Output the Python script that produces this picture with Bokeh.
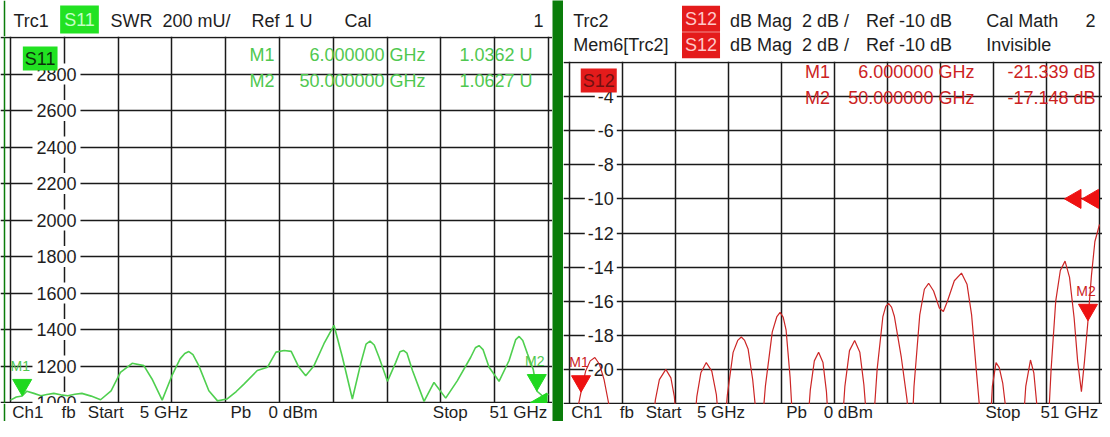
import numpy as np
from bokeh.plotting import figure
from bokeh.layouts import row, column
from bokeh.models import Label, Grid, FixedTicker, Range1d, Span
from bokeh.core.properties import value
from bokeh.embed import file_html
from bokeh.resources import INLINE

FONT = "Liberation Sans"

# ---------------- data ----------------
F_START, F_STOP = 5.0, 51.0

s11_freq = [5.0, 5.5, 6.0, 6.4, 7.0, 7.6, 8.1, 8.7, 9.3, 9.9,
            10.5, 11.1, 11.9, 12.7, 13.6, 14.4, 15.4, 16.4, 17.1, 17.97,
            18.8, 19.5, 19.9, 20.25, 20.6, 21.1, 21.96, 22.7, 23.5, 24.3,
            24.96, 26.1, 26.96, 27.7, 28.4, 29.0, 29.66, 30.24, 30.95, 31.8,
            32.66, 33.38, 34.23, 34.94, 35.4, 35.74, 36.1, 36.51, 37.23, 37.94,
            38.3, 38.6, 38.9, 39.37, 40.36, 41.21, 42.21, 43.21, 44.35, 44.75,
            45.06, 45.4, 45.92, 46.77, 47.63, 48.2, 48.49, 48.8, 49.2, 49.7,
            50.0, 50.5, 51.0]
s11_swr = [1013, 1030, 1036, 1062, 1050, 1037, 1044, 1050, 1042, 1037,
           1045, 1050, 1035, 1015, 1064, 1165, 1215, 1202, 1129, 1013,
           1147, 1239, 1268, 1279, 1262, 1202, 1064, 1009, 1019, 1060,
           1101, 1175, 1193, 1276, 1285, 1280, 1193, 1147, 1202, 1322,
           1423, 1248, 1019, 1212, 1320, 1336, 1315, 1248, 1116, 1220,
           1278, 1285, 1270, 1175, 1006, 1110, 1024, 1120, 1248, 1300,
           1312, 1290, 1193, 1116, 1230, 1345, 1362, 1340, 1267, 1180,
           1063, 1035, 1045]

s12_freq = [5.0, 5.3, 5.6, 5.8, 6.0, 6.4, 6.8, 7.2, 7.6, 8.0, 8.4, 8.7, 10.4,
            12.2, 12.45, 12.8, 13.36, 13.8, 14.1, 14.35, 15.1,
            15.8, 16.05, 16.4, 16.87, 17.35, 17.75, 18.0, 18.3,
            18.45, 18.7, 19.2, 19.6, 19.91, 20.2, 20.5, 20.9, 21.25, 21.5,
            21.7, 22.0, 22.6, 23.0, 23.28, 23.55, 23.8, 24.15, 24.4, 25.0,
            25.65, 25.9, 26.25, 26.62, 27.0, 27.3, 27.5, 28.1,
            28.65, 28.9, 29.3, 29.75, 30.2, 30.55, 30.85, 31.1,
            31.35, 31.7, 32.2, 32.45, 32.69, 32.95, 33.2, 33.8, 34.3, 34.5, 34.6,
            34.7, 34.9, 35.4, 35.8, 36.17, 36.6, 37.1, 37.45, 37.8, 38.4, 39.02,
            39.5, 39.9, 40.3, 40.6, 40.8, 41.2,
            41.5, 41.7, 42.02, 42.3, 42.6, 42.9, 43.1, 43.8,
            44.35, 44.6, 45.01, 45.3, 45.55, 45.8, 46.2,
            46.5, 46.8, 47.2, 47.6, 48.01, 48.4, 48.8, 49.1, 49.43, 49.7,
            50.0, 50.3, 50.6, 51.0]
s12_db = [-23.5, -26.0, -23.0, -22.0, -21.339, -20.1, -19.5, -19.3, -19.7, -20.6, -22.0, -25.0, -32.0,
          -23.5, -21.8, -20.6, -20.0, -20.5, -21.6, -23.5, -32.0,
          -23.5, -21.6, -20.2, -19.6, -20.1, -21.5, -23.5, -30.0,
          -23.5, -21.5, -19.0, -18.3, -18.1, -18.3, -18.8, -20.6, -23.0, -30.0,
          -23.5, -21.0, -17.8, -16.9, -16.65, -16.95, -17.7, -20.5, -23.5, -32.0,
          -23.5, -21.2, -19.5, -19.0, -19.6, -21.3, -23.5, -32.0,
          -23.5, -21.0, -18.9, -18.3, -19.0, -20.9, -23.5, -30.0,
          -23.5, -20.0, -16.9, -16.3, -16.13, -16.35, -16.9, -19.3, -21.8, -24.0, -30.0,
          -24.0, -21.0, -16.8, -15.3, -14.95, -15.4, -16.4, -16.6, -16.0, -14.8, -14.35,
          -15.0, -16.8, -20.0, -22.3, -25.0, -32.0,
          -23.5, -21.0, -19.6, -19.9, -20.8, -22.5, -26.0, -32.0,
          -23.5, -21.0, -19.45, -20.2, -22.0, -25.0, -30.0,
          -24.0, -20.0, -16.0, -14.2, -13.65, -14.6, -17.0, -19.5, -21.3, -19.5,
          -17.148, -14.5, -12.5, -11.5]

marker_names = ["M1", "M2"]
marker_freq = [6.0, 50.0]
marker_freq_text = ["6.000000 GHz", "50.000000 GHz"]
s11_marker_val = [1036.2, 1062.7]
s11_marker_text = ["1.0362  U", "1.0627  U"]
s12_marker_val = [-21.339, -17.148]
s12_marker_text = ["-21.339 dB", "-17.148 dB"]

x_grid_ticks = list(np.linspace(F_START, F_STOP, 11))
s11_ylim = (1000, 3000)
s11_grid_ticks = list(range(1000, 3001, 200))
s11_tick_vals = list(range(1000, 2801, 200))
s11_tick_text = [str(v) for v in s11_tick_vals]
s11_ref = [1000]

s12_ylim = (-22, -2)
s12_grid_ticks = list(range(-22, -1, 2))
s12_tick_vals = list(range(-20, -3, 2))
s12_tick_text = [str(v) for v in s12_tick_vals]
s12_ref = [-10, -10]

left_header_text = ["Trc1", "SWR", "200 mU/", "Ref 1 U", "Cal"]
right_header_row1 = ["Trc2", "dB Mag", "2 dB /", "Ref -10 dB", "Cal Math"]
right_header_row2 = ["Mem6[Trc2]", "dB Mag", "2 dB /", "Ref -10 dB", "Invisible"]
footer_text = ["Ch1", "fb", "Start", "5 GHz", "Pb", "0 dBm", "Stop"]
footer_stop = "51 GHz"

# ---------------- styling / geometry (reference pixels) ----------------
TXT = "#1e1e1e"
GRID = "#1a1a1a"
G_TRACE, G_MARK, G_TEXT, G_BOX = "#4fcf4f", "#1fd81f", "#50c850", "#22e222"
R_TRACE, R_MARK, R_TEXT, R_BOX = "#cc2626", "#ee1111", "#cc2222", "#e41b1b"
SEP = "#0a7d0a"
FS = "18px"
FOOT_FS = "17px"
FOOT_Y = 412


def strip(width, height):
    return figure(width=width, height=height, x_range=Range1d(0, width),
                  y_range=Range1d(height, 0), output_backend="svg",
                  toolbar_location=None, title=None, x_axis_type=None, y_axis_type=None,
                  min_border=0, background_fill_color="white",
                  border_fill_color="white", outline_line_color=None)


def slabel(p, x, y, text, color=TXT, align="left", bg=None, pad=0, size=FS):
    lab = Label(x=x, y=y, text=text, text_font=FONT, text_font_size=size,
                text_color=color, text_align=align, text_baseline="middle")
    if bg is not None:
        lab.background_fill_color = bg
        lab.padding = pad
    p.add_layout(lab)


def main_fig(width, height, xr, yr, yticks):
    p = figure(width=width, height=height, x_range=Range1d(*xr), y_range=Range1d(*yr),
               output_backend="svg", toolbar_location=None, title=None,
               x_axis_type=None, y_axis_type=None, min_border=0,
               background_fill_color="white", border_fill_color="white",
               outline_line_color=None)
    p.add_layout(Grid(dimension=0, ticker=FixedTicker(ticks=x_grid_ticks),
                      grid_line_color=GRID, grid_line_width=1.5))
    p.add_layout(Grid(dimension=1, ticker=FixedTicker(ticks=yticks),
                      grid_line_color=GRID, grid_line_width=1.5))
    return p


def edge_line(p, loc):
    p.add_layout(Span(location=loc, dimension="height", line_color=SEP, line_width=1.5))


# ======== left panel ========
# plot frame (reference px): x 10..548, y 37..402 ; column covers x 0..552
L_W = 552
L_HDR, L_MAIN, L_FTR = 36, 367, 18
lux = (F_STOP - F_START) / 538.0
luy = (s11_ylim[1] - s11_ylim[0]) / 365.0
pl = main_fig(L_W, L_MAIN,
              (F_START - 10 * lux, F_STOP + 4 * lux),
              (s11_ylim[0] - 1 * luy, s11_ylim[1] + 1 * luy), s11_grid_ticks)


def lx(rx):
    return F_START + (rx - 10) * lux


def ly(ry):
    return s11_ylim[0] + (402 - ry) * luy


edge_line(pl, lx(4))
pl.text(x=[F_START] * len(s11_tick_vals), y=s11_tick_vals, text=s11_tick_text,
        x_offset=70, text_align="right", text_baseline="middle",
        text_font=value(FONT), text_font_size=FS, text_color=TXT,
        background_fill_color="white", padding=4)
pl.line(s11_freq, s11_swr, line_color=G_TRACE, line_width=1.6)
pl.scatter(marker_freq, [v + 11 * luy for v in s11_marker_val],
           marker="inverted_triangle", size=19, fill_color=G_MARK, line_color=G_MARK)
pl.text(x=marker_freq, y=s11_marker_val, text=marker_names, x_offset=-2, y_offset=-30,
        text_align="center", text_baseline="middle", text_font=value(FONT),
        text_font_size="14px", text_color=G_TEXT)
pl.scatter([F_STOP - 7 * lux], s11_ref, marker="triangle", angle=np.pi / 2,
           size=19, fill_color=G_MARK, line_color=G_MARK)
slabel(pl, lx(39.7), ly(58), "S11", color="#0c300c", align="center", bg=G_BOX, pad=2)
for i, ry in enumerate([54, 80]):
    slabel(pl, lx(249), ly(ry), marker_names[i], color=G_TEXT)
    slabel(pl, lx(425), ly(ry), marker_freq_text[i], color=G_TEXT, align="right")
    slabel(pl, lx(537), ly(ry), s11_marker_text[i], color=G_TEXT, align="right")

hl = strip(L_W, L_HDR)
edge_line(hl, 4)
for t, rx in zip(left_header_text, [13, 110, 162, 251, 344]):
    slabel(hl, rx, 20, t)
slabel(hl, 543, 20, "1", align="right")
slabel(hl, 79, 19, "S11", color="#c4ffc4", align="center", bg=G_BOX, pad=4)

fl = strip(L_W, L_FTR)
edge_line(fl, 4)
for t, off in zip(footer_text, [1.7, 51, 77.3, 129.3, 220, 258, 422.3]):
    slabel(fl, 10 + off, FOOT_Y - (L_HDR + L_MAIN), t, size=FOOT_FS)
slabel(fl, 546.7, FOOT_Y - (L_HDR + L_MAIN), footer_stop, align="right", size=FOOT_FS)

left_col = column(hl, pl, fl)

# ======== separator ========
bar = figure(width=11, height=L_HDR + L_MAIN + L_FTR, output_backend="svg",
             toolbar_location=None, title=None, x_axis_type=None, y_axis_type=None,
             min_border=0, background_fill_color=SEP, border_fill_color=SEP,
             outline_line_color=None)

# ======== right panel ========
# column covers x 563..1102; plot frame x 569..1099 (slightly compressed), y 62..403
R_X0 = 563
R_W = 539
R_FW = 530.0
R_HDR, R_MAIN, R_FTR = 61, 343, 17
rux = (F_STOP - F_START) / R_FW
ruy = (s12_ylim[1] - s12_ylim[0]) / 341.0
pr = main_fig(R_W, R_MAIN,
              (F_START - 6 * rux, F_STOP + 3 * rux),
              (s12_ylim[0] - 1 * ruy, s12_ylim[1] + 1 * ruy), s12_grid_ticks)


def rpx(rx):
    # reference x -> page x inside the right panel (compressed to fit the window)
    return 569 + (rx - 569) * R_FW / 538.0


def rx2d(rx):
    return F_START + (rpx(rx) - 569) * rux


def ry2d(ry):
    return s12_ylim[0] + (403 - ry) * ruy


pr.text(x=[F_START] * len(s12_tick_vals), y=s12_tick_vals, text=s12_tick_text,
        x_offset=47.3, text_align="right", text_baseline="middle",
        text_font=value(FONT), text_font_size=FS, text_color=TXT,
        background_fill_color="white", padding=3)
pr.line(s12_freq, s12_db, line_color=R_TRACE, line_width=1.2)
pr.scatter(marker_freq, [v + 11 * ruy for v in s12_marker_val],
           marker="inverted_triangle", size=19, fill_color=R_MARK, line_color=R_MARK)
pr.text(x=marker_freq, y=s12_marker_val, text=marker_names, x_offset=-2, y_offset=-30,
        text_align="center", text_baseline="middle", text_font=value(FONT),
        text_font_size="14px", text_color=R_TEXT)
pr.scatter([F_STOP - 24 * rux, F_STOP - 6.5 * rux], s12_ref,
           marker="triangle", angle=np.pi / 2, size=19, fill_color=R_MARK, line_color=R_MARK)
slabel(pr, rx2d(598.7), ry2d(80), "S12", color="#701010", align="center", bg=R_BOX, pad=2)
for i, ry in enumerate([71.5, 97.5]):
    slabel(pr, rx2d(808), ry2d(ry), marker_names[i], color=R_TEXT)
    slabel(pr, rx2d(980), ry2d(ry), marker_freq_text[i], color=R_TEXT, align="right")
    slabel(pr, rx2d(1103), ry2d(ry), s12_marker_text[i], color=R_TEXT, align="right")

hr = strip(R_W, R_HDR)
for t, rx in zip(right_header_row1, [572.7, 732, 805, 870, 992]):
    slabel(hr, rpx(rx) - R_X0, 20, t)
slabel(hr, rpx(1103) - R_X0, 20, "2", align="right")
for t, rx in zip(right_header_row2, [572.7, 732, 805, 870, 992]):
    slabel(hr, rpx(rx) - R_X0, 44.5, t)
slabel(hr, rpx(702.5) - R_X0, 18.3, "S12", color="#ffc8c8", align="center", bg=R_BOX, pad=3)
slabel(hr, rpx(702.5) - R_X0, 44.8, "S12", color="#ffc8c8", align="center", bg=R_BOX, pad=3)

fr = strip(R_W, R_FTR)
for t, off in zip(footer_text, [1.7, 51, 77.3, 129.3, 220, 258, 422.3]):
    slabel(fr, rpx(569 + off) - R_X0, FOOT_Y - (R_HDR + R_MAIN), t, size=FOOT_FS)
slabel(fr, rpx(1105.7) - R_X0, FOOT_Y - (R_HDR + R_MAIN), footer_stop, align="right",
       size=FOOT_FS)

right_col = column(hr, pr, fr)

layout = row(left_col, bar, right_col)
open("out.html", "w").write(file_html(layout, INLINE))
